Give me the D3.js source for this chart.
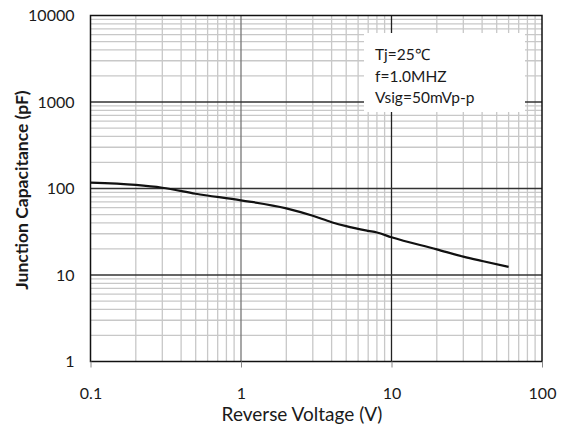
<!DOCTYPE html>
<html>
<head>
<meta charset="utf-8">
<script src="https://cdn.jsdelivr.net/npm/d3@7"></script>
<style>
  body { margin: 0; background: #fff; }
  text { font-family: Lato, "Open Sans", sans-serif; fill: #1a1a1a; }
</style>
</head>
<body>
<svg width="573" height="428"></svg>
<script>
// reverse voltage (V) vs junction capacitance (pF)
var voltage = [0.1, 0.2, 0.3, 0.5, 1, 2, 3, 4, 5, 7, 8, 10, 20, 30, 40, 60];
var capacitance = [117, 110, 102, 87, 73, 59, 48.4, 40.8, 36.7, 32.4, 31, 27.3, 19.8, 16.3, 14.5, 12.4];
var xTicks = [0.1, 1, 10, 100];
var yTicks = [1, 10, 100, 1000, 10000];
var notes = ['Tj=25\u2103', 'f=1.0MHZ', 'Vsig=50mVp-p'];

// plot box (note: "top" is taken by window.top)
var pLeft = 90.5, pRight = 542, pTop = 15.5, pBottom = 361.5;
var svg = d3.select('svg');

var x = d3.scaleLog().domain([0.1, 100]).range([pLeft, pRight]);
var y = d3.scaleLog().domain([1, 10000]).range([pBottom, pTop]);

// minor grid values
var minorX = [], minorY = [];
[0.1, 1, 10].forEach(function(d) {
  for (var i = 2; i < 10; i++) minorX.push(d * i);
});
[1, 10, 100, 1000].forEach(function(d) {
  for (var i = 2; i < 10; i++) minorY.push(d * i);
});

var grid = svg.append('g');
grid.selectAll('.mx').data(minorX).enter().append('line')
  .attr('x1', function(d) { return x(d); })
  .attr('x2', function(d) { return x(d); })
  .attr('y1', pTop).attr('y2', pBottom)
  .attr('stroke', '#c8c8c8').attr('stroke-width', 1.3);
grid.selectAll('.my').data(minorY).enter().append('line')
  .attr('y1', function(d) { return y(d); })
  .attr('y2', function(d) { return y(d); })
  .attr('x1', pLeft).attr('x2', pRight)
  .attr('stroke', '#c8c8c8').attr('stroke-width', 1.3);

// major grid
grid.selectAll('.Mx').data([1, 10]).enter().append('line')
  .attr('x1', function(d) { return x(d); })
  .attr('x2', function(d) { return x(d); })
  .attr('y1', pTop).attr('y2', pBottom)
  .attr('stroke', function(d) { return d == 1 ? '#777' : '#222'; })
  .attr('stroke-width', 1.3);
grid.selectAll('.My').data([10, 100, 1000]).enter().append('line')
  .attr('y1', function(d) { return y(d); })
  .attr('y2', function(d) { return y(d); })
  .attr('x1', pLeft).attr('x2', pRight)
  .attr('stroke', '#333').attr('stroke-width', 1.5);

// note box
svg.append('rect')
  .attr('x', 364).attr('y', 33).attr('width', 161).attr('height', 79)
  .attr('fill', '#fff');
svg.selectAll('.note').data(notes).enter().append('text')
  .attr('x', 375)
  .attr('y', function(d, i) { return 60 + i * 21.5; })
  .attr('font-size', 15.5)
  .text(function(d) { return d; });

// curve
var line = d3.line()
  .x(function(d, i) { return x(voltage[i]); })
  .y(function(d) { return y(d); })
  .curve(d3.curveMonotoneX);
svg.append('path')
  .datum(capacitance)
  .attr('d', line)
  .attr('fill', 'none')
  .attr('stroke', '#111')
  .attr('stroke-width', 2.2);

// frame
svg.append('rect')
  .attr('x', pLeft).attr('y', pTop)
  .attr('width', pRight - pLeft).attr('height', pBottom - pTop)
  .attr('fill', 'none').attr('stroke', '#111').attr('stroke-width', 1.5);

// axes
var xAxis = d3.axisBottom(x).tickValues(xTicks)
  .tickSize(6).tickPadding(20)
  .tickFormat(function(d) { return String(d); });
var gx = svg.append('g').attr('transform', 'translate(0,' + pBottom + ')').call(xAxis);
gx.select('.domain').remove();
gx.selectAll('line').attr('stroke', '#888');
gx.selectAll('text').attr('font-size', 16).style('font-family', 'Lato, sans-serif').attr('fill', '#1a1a1a');

var yAxis = d3.axisLeft(y).tickValues(yTicks)
  .tickSize(0).tickPadding(16)
  .tickFormat(function(d) { return String(d); });
var gy = svg.append('g').attr('transform', 'translate(' + pLeft + ',0)').call(yAxis);
gy.select('.domain').remove();
gy.selectAll('text').attr('font-size', 16).style('font-family', 'Lato, sans-serif').attr('fill', '#1a1a1a');

// titles
svg.append('text')
  .attr('x', 302).attr('y', 421)
  .attr('text-anchor', 'middle')
  .attr('font-size', 19)
  .text('Reverse Voltage (V)');
svg.append('text')
  .attr('transform', 'translate(28,190) rotate(-90)')
  .attr('text-anchor', 'middle')
  .attr('font-size', 17.5)
  .attr('font-weight', 'bold')
  .text('Junction Capacitance (pF)');
</script>
</body>
</html>
